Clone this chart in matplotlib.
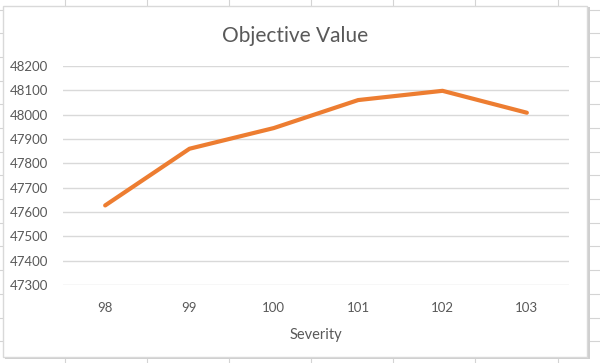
import matplotlib
matplotlib.use("Agg")
import matplotlib.pyplot as plt
from matplotlib.patches import Rectangle
from matplotlib.lines import Line2D

categories = ["98", "99", "100", "101", "102", "103"]
values = [47627, 47860, 47945, 48060, 48098, 48008]
yticks = [47300, 47400, 47500, 47600, 47700, 47800, 47900, 48000, 48100, 48200]

W, H = 600, 363
plt.rcParams['font.family'] = ['Lato', 'DejaVu Sans']
fig = plt.figure(figsize=(W / 100, H / 100), dpi=100)
fig.patch.set_facecolor("white")

def fx(x):
    return x / W

def fy(y):
    return 1 - y / H

# spreadsheet grid in background
for x in [65, 147, 229, 311, 393, 475, 558]:
    fig.add_artist(Line2D([fx(x), fx(x)], [0, 1], color="#d4d4d4", lw=0.8, zorder=0))
y = 9.5
while y < H:
    fig.add_artist(Line2D([0, 1], [fy(y), fy(y)], color="#d4d4d4", lw=0.8, zorder=0))
    y += 23.7

# chart box with shadow
fig.add_artist(Rectangle((fx(5), fy(359)), fx(585), 352 / H, facecolor="#cfcfcf",
                         edgecolor="none", zorder=1))
fig.add_artist(Rectangle((fx(3), fy(357)), fx(584), 351 / H, facecolor="white",
                         edgecolor="#d9d9d9", lw=1.0, zorder=2))

ax = fig.add_axes([fx(63), fy(285), fx(569 - 63), (285 - 66) / H], zorder=3)
ax.set_facecolor("none")
x = list(range(len(categories)))
ax.plot(x, values, color="#ed7d31", lw=3.0, solid_capstyle="round", zorder=4)
ax.set_xlim(-0.5, len(categories) - 0.5)
ax.set_ylim(yticks[0], yticks[-1])
ax.set_yticks(yticks)
ax.set_yticklabels([str(v) for v in yticks])
ax.set_xticks(x)
ax.set_xticklabels(categories)
ax.grid(axis="y", color="#d9d9d9", lw=1.0)
ax.set_axisbelow(True)
for s in ax.spines.values():
    s.set_visible(False)
ax.tick_params(axis="both", length=0, colors="#595959", labelsize=9.5)
ax.tick_params(axis="y", pad=11)
ax.tick_params(axis="x", pad=12)
ax.set_xlabel("Severity", color="#595959", fontsize=10.5, labelpad=10)

fig.text(fx(295), fy(36), "Objective Value", ha="center", va="center",
         color="#595959", fontsize=15, zorder=5)

fig.savefig("out.png", dpi=100, facecolor="white")
